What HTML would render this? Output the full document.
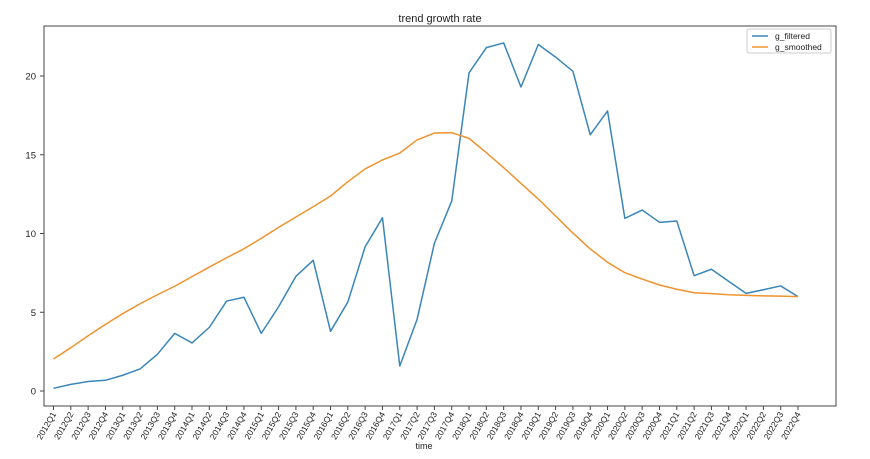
<!DOCTYPE html>
<html><head><meta charset="utf-8"><style>
body{margin:0;background:#fff;font-family:"Liberation Sans",sans-serif}
svg text{font-family:"Liberation Sans",sans-serif;fill:#222}
</style></head><body>
<svg id="chart" width="870" height="454"></svg>
<script>
const years=[2012,2013,2014,2015,2016,2017,2018,2019,2020,2021,2022];
const gFiltered=[0.17,0.42,0.6,0.68,1.0,1.4,2.33,3.66,3.05,4.04,5.71,5.95,3.66,5.35,7.28,8.3,3.79,5.65,9.16,11.0,1.59,4.55,9.38,12.06,20.2,21.8,22.1,19.3,22.0,21.2,20.3,16.27,17.78,10.96,11.49,10.71,10.79,7.32,7.73,6.96,6.2,6.43,6.67,5.99];
const gSmoothed=[2.03,2.75,3.51,4.23,4.91,5.54,6.11,6.65,7.26,7.87,8.46,9.03,9.69,10.39,11.05,11.7,12.38,13.29,14.1,14.67,15.11,15.94,16.38,16.4,16.04,15.13,14.18,13.18,12.19,11.11,10.03,9.02,8.17,7.51,7.11,6.73,6.46,6.24,6.18,6.11,6.07,6.04,6.02,5.99];
const yTicks=[0,5,10,15,20];
const categories=[];years.forEach(y=>{for(let q=1;q<=4;q++)categories.push(y+'Q'+q);});
const NS='http://www.w3.org/2000/svg';
const svg=document.getElementById('chart');
const L=44,R=836,T=26,B=406;
const x0=53.5,x1=798;
const xs=i=>x0+(x1-x0)*i/(categories.length-1);
const ys=v=>391-v*15.75;
function mk(tag,at,parent){const e=document.createElementNS(NS,tag);for(const k in at)e.setAttribute(k,at[k]);(parent||svg).appendChild(e);return e;}
const frame=mk('rect',{x:L,y:T,width:R-L,height:B-T,fill:'none',stroke:'#444','stroke-width':1});


const title=mk('text',{x:440,y:22,'text-anchor':'middle','font-size':11});
title.textContent='trend growth rate';


yTicks.forEach(v=>{
  const t=mk('line',{x1:L-4,x2:L,y1:ys(v),y2:ys(v),stroke:'#444'});
  
  
  const lb=mk('text',{x:L-8,y:ys(v)+3.5,'text-anchor':'end','font-size':9.5});
  lb.textContent=v;
  
  
});
categories.forEach((c,i)=>{
  const x=xs(i);
  const t=mk('line',{x1:x,x2:x,y1:B,y2:B+4,stroke:'#444'});
  
  
  const lb=mk('text',{x:x+3,y:B+8,'text-anchor':'end','font-size':8.5,transform:`rotate(-60 ${x+3} ${B+8})`});
  lb.textContent=c;
  
  
});
const xl=mk('text',{x:424,y:449,'text-anchor':'middle','font-size':9});
xl.textContent='time';


function line(data,color,name){
  const p=mk('polyline',{points:data.map((v,i)=>xs(i)+','+ys(v)).join(' '),fill:'none',stroke:color,'stroke-width':1.5,'stroke-linejoin':'round'});
  
  
}
line(gFiltered,'#3a86b8','g-filtered-line');
line(gSmoothed,'#f0922e','g-smoothed-line');
const lg=mk('rect',{x:747,y:29,width:84,height:24,fill:'#fff',stroke:'#ccc',rx:2});


[['g_filtered','#3a86b8',36],['g_smoothed','#f0922e',47]].forEach(([n,c,y])=>{
  const l=mk('line',{x1:752,x2:768,y1:y,y2:y,stroke:c,'stroke-width':1.5});
  
  
  const t=mk('text',{x:775,y:y+3,'font-size':8.5});
  t.textContent=n;
  
  
});
</script>
</body></html>
